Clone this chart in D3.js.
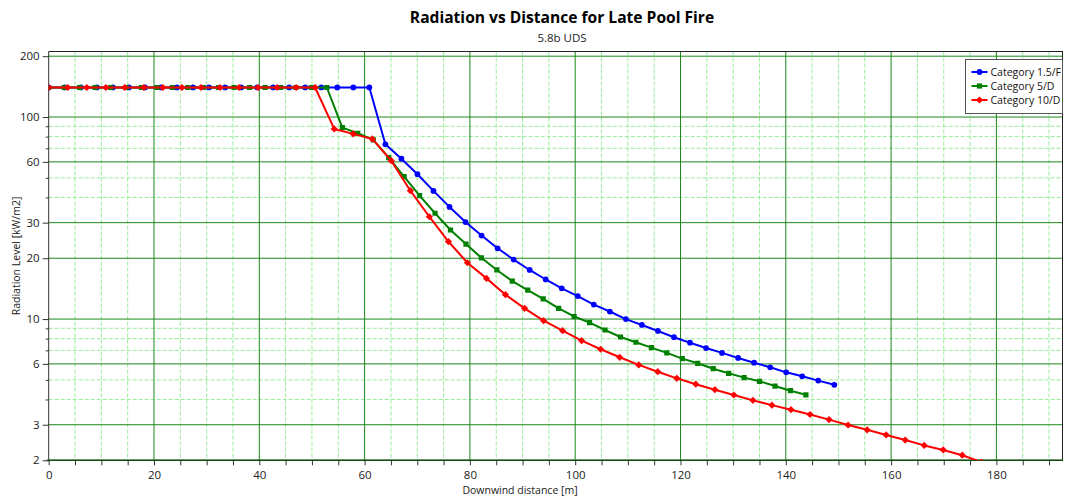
<!DOCTYPE html>
<html>
<head>
<meta charset="utf-8">
<script src="https://cdn.jsdelivr.net/npm/d3@7"></script>
<style>
  html, body { margin: 0; padding: 0; background: #fff; }
  svg { display: block; font-family: "Open Sans", "Noto Sans", sans-serif; }
</style>
</head>
<body>
<svg id="chart" width="1065" height="497"></svg>
<script>
// Downwind distance [m] of each calculated point, per weather category
const distCat15F = [0, 3.05, 6.09, 9.14, 12.18, 15.23, 18.27, 21.32, 24.36, 27.41, 30.45, 33.50, 36.54, 39.59, 42.63, 45.68, 48.72, 51.77, 54.81, 57.86, 60.90, 63.95, 66.99, 70.04, 73.08, 76.13, 79.17, 82.22, 85.26, 88.31, 91.35, 94.40, 97.44, 100.49, 103.53, 106.58, 109.62, 112.67, 115.71, 118.76, 121.80, 124.85, 127.89, 130.94, 133.98, 137.03, 140.07, 143.12, 146.16, 149.21];
const distCat5D = [0, 2.94, 5.87, 8.81, 11.74, 14.68, 17.61, 20.55, 23.48, 26.42, 29.35, 32.29, 35.22, 38.16, 41.09, 44.03, 46.96, 49.90, 52.83, 55.77, 58.70, 61.64, 64.57, 67.51, 70.44, 73.38, 76.31, 79.25, 82.18, 85.12, 88.05, 90.99, 93.92, 96.86, 99.79, 102.73, 105.66, 108.60, 111.53, 114.47, 117.40, 120.34, 123.27, 126.21, 129.14, 132.08, 135.01, 137.95, 140.88, 143.82];
const distCat10D = [0, 3.62, 7.23, 10.85, 14.46, 18.08, 21.69, 25.31, 28.92, 32.54, 36.15, 39.77, 43.38, 47.00, 50.61, 54.23, 57.84, 61.46, 65.07, 68.69, 72.30, 75.92, 79.53, 83.15, 86.76, 90.38, 93.99, 97.61, 101.22, 104.84, 108.45, 112.07, 115.68, 119.30, 122.91, 126.53, 130.14, 133.76, 137.37, 140.99, 144.60, 148.22, 151.83, 155.45, 159.06, 162.68, 166.29, 169.91, 173.52, 177.14];

// Radiation level [kW/m2] at those distances
const radCat15F = [140, 140, 140, 140, 140, 140, 140, 140, 140, 140, 140, 140, 140, 140, 140, 140, 140, 140, 140, 140, 140,
  73.3, 62.2, 52.1, 43.1, 35.9, 30.2, 25.9, 22.4, 19.7, 17.5, 15.7, 14.2, 13.0, 11.8, 10.9, 10.0, 9.35, 8.73, 8.13, 7.64, 7.19, 6.80, 6.42, 6.08, 5.77, 5.45, 5.21, 4.96, 4.73];
const radCat5D = [140, 140, 140, 140, 140, 140, 140, 140, 140, 140, 140, 140, 140, 140, 140, 140, 140, 140, 140,
  88.6, 83.1, 77.0, 63.0, 50.7, 40.8, 33.4, 27.6, 23.5, 20.1, 17.5, 15.4, 13.9, 12.6, 11.3, 10.3, 9.60, 8.83, 8.15, 7.68, 7.22, 6.80, 6.37, 6.04, 5.68, 5.39, 5.13, 4.92, 4.66, 4.42, 4.22];
const radCat10D = [140, 140, 140, 140, 140, 140, 140, 140, 140, 140, 140, 140, 140, 140, 140,
  87.3, 82.5, 77.9, 60.8, 43.2, 32.1, 24.2, 19.0, 15.9, 13.2, 11.3, 9.82, 8.76, 7.82, 7.09, 6.47, 5.93, 5.49, 5.09, 4.76, 4.47, 4.21, 3.96, 3.75, 3.56, 3.37, 3.18, 2.99, 2.83, 2.67, 2.52, 2.37, 2.25, 2.12, 1.96];

const seriesNames = ["Category 1.5/F", "Category 5/D", "Category 10/D"];

// Axis ticks
const xMajorTicks = [0, 20, 40, 60, 80, 100, 120, 140, 160, 180];
const xMinorTicks = [5, 10, 15, 25, 30, 35, 45, 50, 55, 65, 70, 75, 85, 90, 95, 105, 110, 115, 125, 130, 135, 145, 150, 155, 165, 170, 175, 185, 190];
const yMajorTicks = [2, 3, 6, 10, 20, 30, 60, 100, 200];
const yMinorTicks = [4, 5, 7, 8, 9, 40, 50, 70, 80, 90];

const titleText = "Radiation vs Distance for Late Pool Fire";
const subtitleText = "5.8b UDS";
const xTitle = "Downwind distance [m]";
const yTitle = "Radiation Level [kW/m2]";

// Diamond marker: a square turned 45 degrees
const symbolRhomb = {
  draw(ctx, size) {
    const r = Math.sqrt(size / 2);
    ctx.moveTo(0, -r); ctx.lineTo(r, 0); ctx.lineTo(0, r); ctx.lineTo(-r, 0); ctx.closePath();
  }
};

const series = [
  { name: seriesNames[0], x: distCat15F, y: radCat15F, color: "#0000ff", symbol: d3.symbolCircle, size: 26 },
  { name: seriesNames[1], x: distCat5D,  y: radCat5D,  color: "#008000", symbol: d3.symbolSquare, size: 27 },
  { name: seriesNames[2], x: distCat10D, y: radCat10D, color: "#ff0000", symbol: symbolRhomb, size: 26 }
];

const svg = d3.select("#chart");
const plot = { left: 48.7, right: 1063, top: 51.5, bottom: 460.3 };

const x = d3.scaleLinear().domain([0, 192.65]).range([plot.left, plot.right]);
const y = d3.scaleLog().domain([2, 211]).range([plot.bottom, plot.top]);

// Titles
svg.append("text").attr("x", 562).attr("y", 23).attr("text-anchor", "middle")
  .attr("font-size", 15.6).attr("font-weight", 700).attr("fill", "#000").text(titleText);
svg.append("text").attr("x", 562).attr("y", 42).attr("text-anchor", "middle")
  .attr("font-size", 11.5).attr("fill", "#222").text(subtitleText);

// Grid
const grid = svg.append("g");
grid.selectAll(".xminor").data(xMinorTicks).join("line")
  .attr("x1", d => x(d)).attr("x2", d => x(d))
  .attr("y1", plot.top).attr("y2", plot.bottom)
  .attr("stroke", "#98ec98").attr("stroke-dasharray", "4,2");
grid.selectAll(".yminor").data(yMinorTicks).join("line")
  .attr("y1", d => y(d)).attr("y2", d => y(d))
  .attr("x1", plot.left).attr("x2", plot.right)
  .attr("stroke", "#98ec98").attr("stroke-dasharray", "4,2");
grid.selectAll(".xmajor").data(xMajorTicks.slice(1)).join("line")
  .attr("x1", d => x(d)).attr("x2", d => x(d))
  .attr("y1", plot.top).attr("y2", plot.bottom)
  .attr("stroke", "#1b881b");
grid.selectAll(".ymajor").data(yMajorTicks).join("line")
  .attr("y1", d => y(d)).attr("y2", d => y(d))
  .attr("x1", plot.left).attr("x2", plot.right)
  .attr("stroke", "#1b881b");

// Frame
svg.append("line").attr("x1", plot.left).attr("x2", plot.right)
  .attr("y1", plot.top).attr("y2", plot.top).attr("stroke", "#222");
svg.append("line").attr("x1", plot.right - 0.5).attr("x2", plot.right - 0.5)
  .attr("y1", plot.top).attr("y2", plot.bottom).attr("stroke", "#222");

// Axes
const xAxisMinor = d3.axisBottom(x).tickValues(xMinorTicks).tickSize(5).tickFormat("");
const xAxis = d3.axisBottom(x).tickValues(xMajorTicks).tickSize(5).tickPadding(6).tickFormat(d3.format("d"));
const yAxisMinor = d3.axisLeft(y).tickValues(yMinorTicks).tickSize(3).tickFormat("");
const yAxis = d3.axisLeft(y).tickValues(yMajorTicks).tickSize(6).tickPadding(3).tickFormat(d3.format("d"));

function styleAxis(g) {
  g.select(".domain").remove();
  g.selectAll("line").attr("stroke", "#333");
  g.selectAll("text").attr("fill", "#222").attr("font-size", 11.5)
    .attr("font-family", "\"Open Sans\", \"Noto Sans\", sans-serif");
}
svg.append("g").attr("transform", `translate(0,${plot.bottom})`).call(xAxisMinor).call(styleAxis);
svg.append("g").attr("transform", `translate(0,${plot.bottom})`).call(xAxis).call(styleAxis);
svg.append("g").attr("transform", `translate(${plot.left},0)`).call(yAxisMinor).call(styleAxis);
svg.append("g").attr("transform", `translate(${plot.left},0)`).call(yAxis).call(styleAxis);

svg.append("line").attr("x1", plot.left).attr("x2", plot.left)
  .attr("y1", plot.top).attr("y2", plot.bottom + 1).attr("stroke", "#333");
svg.append("line").attr("x1", plot.left - 2).attr("x2", plot.right)
  .attr("y1", plot.bottom).attr("y2", plot.bottom).attr("stroke", "#114d11").attr("stroke-width", 1.5);

svg.append("text").attr("x", 520).attr("y", 494).attr("text-anchor", "middle")
  .attr("font-size", 10.5).attr("fill", "#222").text(xTitle);
svg.append("text").attr("transform", "translate(20,256) rotate(-90)").attr("text-anchor", "middle")
  .attr("font-size", 10.5).attr("fill", "#222").text(yTitle);

// Series
svg.append("defs").append("clipPath").attr("id", "plotClip")
  .append("rect").attr("x", plot.left).attr("y", plot.top)
  .attr("width", plot.right - plot.left).attr("height", plot.bottom - plot.top);

const dataLayer = svg.append("g").attr("clip-path", "url(#plotClip)");
const line = d3.line().x(d => x(d[0])).y(d => y(d[1]));

series.forEach(s => {
  const pts = s.x.map((v, i) => [v, s.y[i]]);
  dataLayer.append("path").datum(pts)
    .attr("fill", "none").attr("stroke", s.color).attr("stroke-width", 2)
    .attr("stroke-linejoin", "round").attr("d", line);
  dataLayer.selectAll(null).data(pts).join("path")
    .attr("transform", d => `translate(${x(d[0])},${y(d[1])})`)
    .attr("d", d3.symbol().type(s.symbol).size(s.size))
    .attr("fill", s.color);
});

// Legend
const legend = svg.append("g").attr("transform", "translate(965.5,59.5)");
legend.append("rect").attr("width", 97).attr("height", 54)
  .attr("fill", "#fff").attr("stroke", "#555");
series.forEach((s, i) => {
  const row = legend.append("g").attr("transform", `translate(0,${12.5 + i * 14})`);
  row.append("line").attr("x1", 6).attr("x2", 22).attr("stroke", s.color).attr("stroke-width", 2);
  row.append("path").attr("transform", "translate(14,0)")
    .attr("d", d3.symbol().type(s.symbol).size(s.size)).attr("fill", s.color);
  row.append("text").attr("x", 25).attr("y", 4).attr("font-size", 10.5).attr("fill", "#111").text(s.name);
});
</script>
</body>
</html>
